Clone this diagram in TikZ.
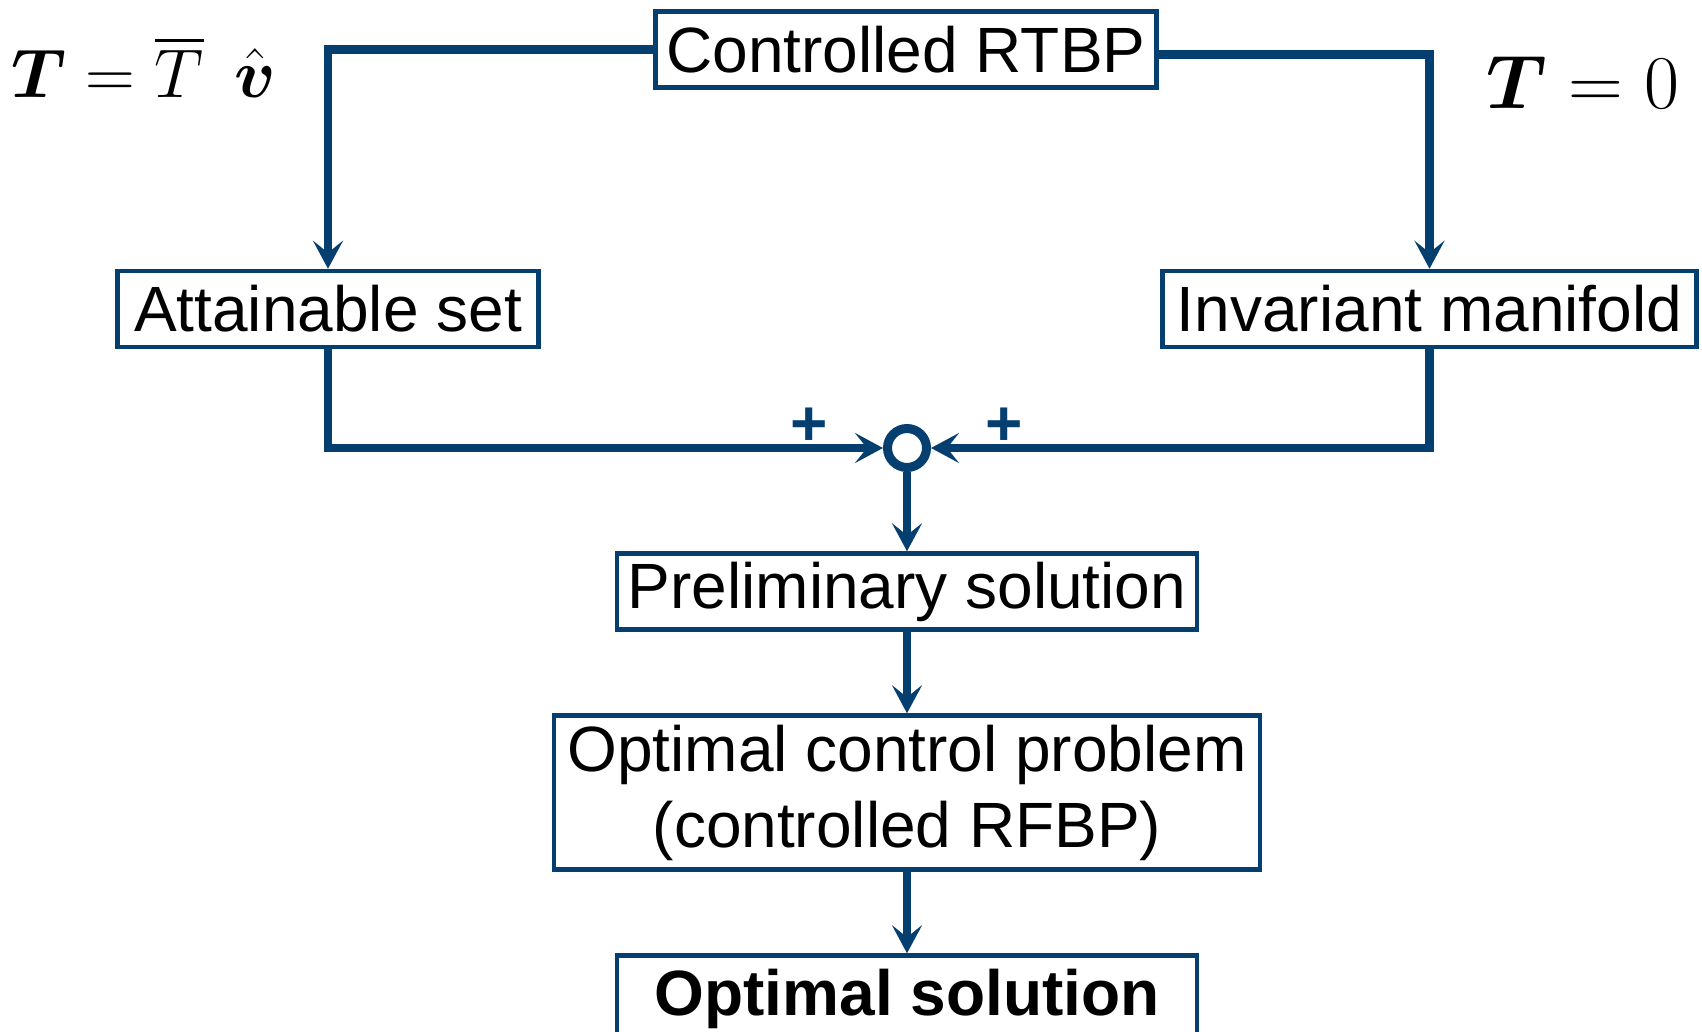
\RequirePackage{fix-cm}
\documentclass[tikz,border=0pt]{standalone}
\usepackage{amsmath}
\usepackage{amssymb}
\usepackage{xcolor}
\usepackage{fontspec}
\setmainfont{Liberation Sans}
\usetikzlibrary{arrows.meta}

\definecolor{blu}{RGB}{4,63,112}

\begin{document}
\begin{tikzpicture}[x=1pt, y=-1pt,
    blocco/.style={draw=blu, line width=4.5pt, inner sep=0pt, minimum height=76pt, align=center, font=\fontsize{64}{76}\selectfont},
    freccia/.style={draw=blu, line width=8.5pt, -{Stealth[length=28pt, width=30pt, inset=12pt]}},
    segno/.style={text=blu, font=\fontsize{64}{76}\selectfont\bfseries}]
    \useasboundingbox (0,0) rectangle (1702,1031);
    \clip (0,0) rectangle (1702,1031);

    % Blocchi
    \node[blocco, minimum width=501pt] (ctrl) at (906,49.5) {Controlled RTBP};
    \node[blocco, minimum width=421pt] (att) at (328,309) {Attainable set};
    \node[blocco, minimum width=534pt] (inv) at (1429.5,309) {Invariant manifold};
    \node[circle, draw=blu, line width=9pt, minimum size=39pt, inner sep=0pt] (somma) at (907,448) {};
    \node[blocco, minimum width=580pt] (prel) at (907,591.5) {Preliminary solution};
    \node[blocco, minimum width=706pt, minimum height=154pt] (ocp) at (907,792.5) {Optimal control problem\\(controlled RFBP)};
    \node[blocco, minimum width=580pt, minimum height=86pt, font=\fontsize{64}{76}\selectfont\bfseries] (opt) at (907,998.5) {Optimal solution};

    % Etichette
    \node[font=\fontsize{69}{80}\selectfont] (spinta) at (144,67) {$\boldsymbol{T}=\overline{T}\;\,\hat{\boldsymbol{v}}$};
    \node[font=\fontsize{76}{88}\selectfont] (nulla) at (1583,82) {$\boldsymbol{T}=0$};
    \foreach \nome/\x in {piu1/809, piu2/1004} {
        \node[segno] (\nome) at (\x,427) {+};
    }

    % Frecce
    \draw[freccia] (ctrl.west) -| (att.north);
    \draw[freccia] ([yshift=-5pt]ctrl.east) -| (inv.north);
    \draw[freccia] (att.south) |- (somma.west);
    \draw[freccia] (inv.south) |- (somma.east);
    \foreach \a/\b in {somma/prel, prel/ocp, ocp/opt} {
        \draw[freccia] (\a) -- (\b);
    }
\end{tikzpicture}
\end{document}
